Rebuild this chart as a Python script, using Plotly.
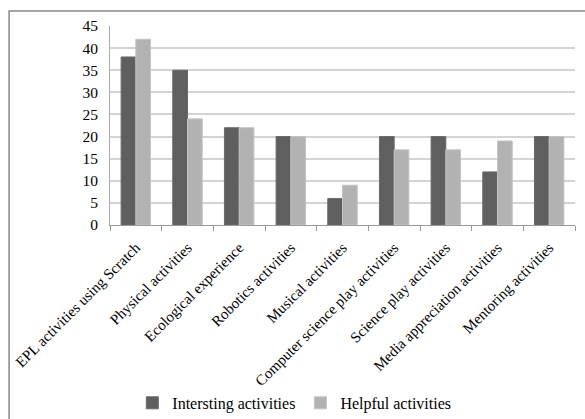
import plotly.graph_objects as go

categories = ["EPL activities using Scratch", "Physical activities", "Ecological experience",
              "Robotics activities", "Musical activities", "Computer science play activities",
              "Science play activities", "Media appreciation activities", "Mentoring activities"]
interesting = [38, 35, 22, 20, 6, 20, 20, 12, 20]
helpful = [42, 24, 22, 20, 9, 17, 17, 19, 20]

fig = go.Figure()
fig.add_trace(go.Bar(x=categories, y=interesting, name="Intersting activities",
                     marker=dict(color="#5f5f5f", line=dict(color="#6a6a6a", width=1))))
fig.add_trace(go.Bar(x=categories, y=helpful, name="Helpful activities",
                     marker=dict(color="#b2b2b2", line=dict(color="#c4c4c4", width=1))))

fig.update_layout(
    width=585, height=419,
    margin=dict(l=110, r=10, t=26, b=194, autoexpand=False),
    paper_bgcolor="white", plot_bgcolor="white",
    font=dict(family="Liberation Serif", color="black", size=16),
    barmode="group", bargap=0.43, bargroupgap=0,
    showlegend=True,
    legend=dict(orientation="h", x=0.048, xanchor="left", y=-0.894, yanchor="middle",
                font=dict(size=16), itemwidth=30, traceorder="normal",
                bgcolor="rgba(0,0,0,0)"),
    xaxis=dict(type="category", tickangle=-45, tickson="boundaries", ticks="outside",
               ticklen=5, tickcolor="#999999", showline=True, linecolor="#999999",
               linewidth=1, showgrid=False, tickfont=dict(size=15), automargin=False,
               ticklabelstandoff=7),
    yaxis=dict(range=[0, 45], dtick=5, showgrid=True, gridcolor="#d4d4d4", gridwidth=2,
               showline=True, linecolor="#aaaaaa", ticks="", zeroline=False,
               tickfont=dict(size=15.5), automargin=False, ticklabelstandoff=8),
    shapes=[dict(type="rect", xref="paper", yref="paper", x0=-0.217, x1=1.1, y0=-1.2, y1=1.075,
                 line=dict(color="#888888", width=1.5), fillcolor="rgba(0,0,0,0)", layer="below")],
)

fig.write_html("out.html")
